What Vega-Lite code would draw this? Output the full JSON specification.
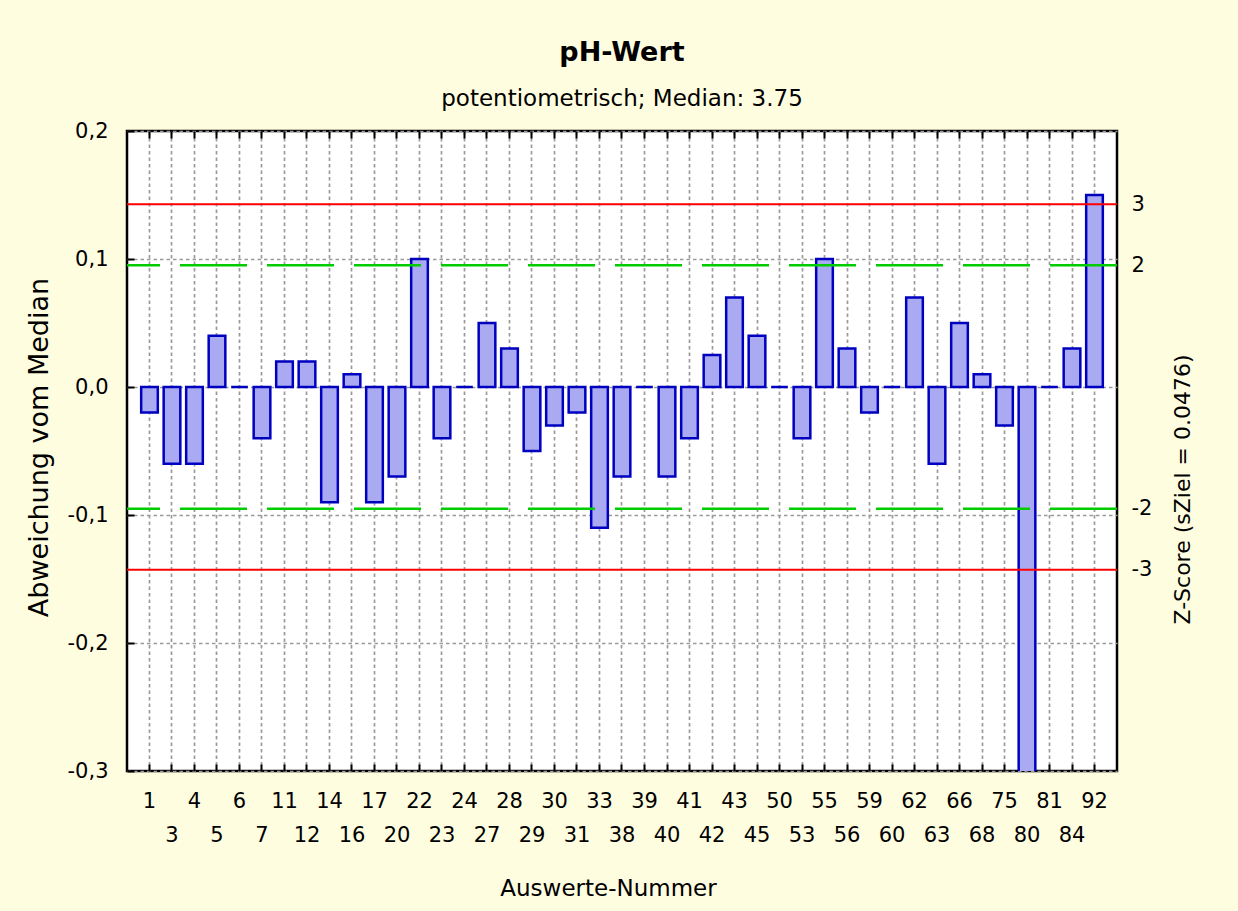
{
  "$schema": "https://vega.github.io/schema/vega-lite/v6.json",
  "width": 990,
  "height": 640,
  "autosize": {"type": "none"},
  "padding": {"left": 127, "top": 131, "right": 121, "bottom": 140},
  "background": "#FFFDDF",
  "config": {
    "font": "DejaVu Sans",
    "view": {"stroke": "#000000", "strokeWidth": 2.5, "fill": "#FFFFFF"},
    "axis": {
      "labelFont": "DejaVu Sans",
      "titleFont": "DejaVu Sans",
      "labelColor": "#000000",
      "titleColor": "#000000",
      "titleFontWeight": "normal"
    }
  },
  "title": {
    "text": "pH-Wert",
    "subtitle": "potentiometrisch; Median: 3.75",
    "font": "DejaVu Sans",
    "fontSize": 27,
    "fontWeight": "bold",
    "color": "#000000",
    "subtitleFont": "DejaVu Sans",
    "subtitleFontSize": 23,
    "subtitleColor": "#000000",
    "subtitlePadding": 21,
    "anchor": "middle",
    "offset": 8
  },
  "datasets": {
    "bars": [
      {"nr": "1", "abw": -0.02}, {"nr": "3", "abw": -0.06}, {"nr": "4", "abw": -0.06},
      {"nr": "5", "abw": 0.04}, {"nr": "6", "abw": 0}, {"nr": "7", "abw": -0.04},
      {"nr": "11", "abw": 0.02}, {"nr": "12", "abw": 0.02}, {"nr": "14", "abw": -0.09},
      {"nr": "16", "abw": 0.01}, {"nr": "17", "abw": -0.09}, {"nr": "20", "abw": -0.07},
      {"nr": "22", "abw": 0.10}, {"nr": "23", "abw": -0.04}, {"nr": "24", "abw": 0},
      {"nr": "27", "abw": 0.05}, {"nr": "28", "abw": 0.03}, {"nr": "29", "abw": -0.05},
      {"nr": "30", "abw": -0.03}, {"nr": "31", "abw": -0.02}, {"nr": "33", "abw": -0.11},
      {"nr": "38", "abw": -0.07}, {"nr": "39", "abw": 0}, {"nr": "40", "abw": -0.07},
      {"nr": "41", "abw": -0.04}, {"nr": "42", "abw": 0.025}, {"nr": "43", "abw": 0.07},
      {"nr": "45", "abw": 0.04}, {"nr": "50", "abw": 0}, {"nr": "53", "abw": -0.04},
      {"nr": "55", "abw": 0.10}, {"nr": "56", "abw": 0.03}, {"nr": "59", "abw": -0.02},
      {"nr": "60", "abw": 0}, {"nr": "62", "abw": 0.07}, {"nr": "63", "abw": -0.06},
      {"nr": "66", "abw": 0.05}, {"nr": "68", "abw": 0.01}, {"nr": "75", "abw": -0.03},
      {"nr": "80", "abw": -0.35}, {"nr": "81", "abw": 0}, {"nr": "84", "abw": 0.03},
      {"nr": "92", "abw": 0.15}
    ],
    "rot": [{"z": 3}, {"z": -3}],
    "gruen": [{"z": 2}, {"z": -2}]
  },
  "layer": [
    {
      "data": {"name": "bars"},
      "mark": {"type": "bar", "fill": "#AAAAF2", "stroke": "#0000C0", "strokeWidth": 2.5, "clip": true},
      "encoding": {
        "x": {
          "field": "nr",
          "type": "nominal",
          "sort": null,
          "scale": {"paddingInner": 0.26, "paddingOuter": 0.63},
          "axis": {
            "orient": "bottom",
            "title": "Auswerte-Nummer",
            "titleFontSize": 23,
            "titleX": 481,
            "titleY": 124.5,
            "titleBaseline": "alphabetic",
            "titleAlign": "center",
            "labelAngle": 0,
            "labelFontSize": 21,
            "labelBaseline": "top",
            "labelLineHeight": 34,
            "labelPadding": 26,
            "labelOverlap": false,
            "labelBound": false,
            "labelFlush": false,
            "labelExpr": "indexof(['1','3','4','5','6','7','11','12','14','16','17','20','22','23','24','27','28','29','30','31','33','38','39','40','41','42','43','45','50','53','55','56','59','60','62','63','66','68','75','80','81','84','92'], datum.label) % 2 == 1 ? ['', datum.label] : datum.label",
            "bandPosition": 0.5,
            "domain": false,
            "ticks": true,
            "tickSize": -7,
            "tickWidth": 2,
            "tickColor": "#000000",
            "grid": true,
            "gridColor": "#9A9A9A",
            "gridDash": [3.5, 3],
            "gridWidth": 1.7
          }
        },
        "y": {
          "field": "abw",
          "type": "quantitative",
          "scale": {"domain": [-0.3, 0.2], "nice": false, "zero": false},
          "axis": {
            "orient": "left",
            "title": "Abweichung vom Median",
            "titleFontSize": 27,
            "titleAngle": 270,
            "titleX": -80,
            "titleY": 316,
            "titleAlign": "center",
            "titleBaseline": "alphabetic",
            "values": [-0.3, -0.2, -0.1, 0, 0.1, 0.2],
            "labelFontSize": 21,
            "labelPadding": 26,
            "labelExpr": "(datum.value < -0.0001 ? '-' : '') + replace(format(abs(datum.value), '.1f'), '.', ',')",
            "domain": false,
            "ticks": true,
            "tickSize": -7,
            "tickWidth": 2,
            "tickColor": "#000000",
            "grid": true,
            "gridColor": "#9A9A9A",
            "gridDash": [3.5, 3],
            "gridWidth": 1.7
          }
        }
      }
    },
    {
      "encoding": {
        "y": {
          "field": "z",
          "type": "quantitative",
          "scale": {"domain": [-6.302521, 4.201681], "nice": false, "zero": false},
          "axis": {
            "orient": "right",
            "title": "Z-Score (sZiel = 0.0476)",
            "titleFontSize": 22,
            "titleAngle": 270,
            "titleX": 72,
            "titleY": 358,
            "titleAlign": "center",
            "titleBaseline": "alphabetic",
            "values": [3, 2, -2, -3],
            "labelFontSize": 21,
            "labelPadding": 14,
            "labelAlign": "left",
            "labelExpr": "datum.value < 0 ? '-' + abs(datum.value) : '' + datum.value",
            "domain": false,
            "ticks": false,
            "grid": false
          }
        }
      },
      "layer": [
        {
          "data": {"name": "gruen"},
          "mark": {"type": "rule", "color": "#00CC00", "strokeWidth": 2.5, "strokeDash": [67, 20]}
        },
        {
          "data": {"name": "rot"},
          "mark": {"type": "rule", "color": "#FF0000", "strokeWidth": 2}
        }
      ]
    },
    {
      "data": {"name": "bars"},
      "mark": {"type": "point", "opacity": 0},
      "encoding": {
        "x": {
          "field": "nr",
          "type": "nominal",
          "sort": null,
          "axis": {
            "orient": "top",
            "title": null,
            "labels": false,
            "domain": false,
            "grid": false,
            "bandPosition": 0.5,
            "ticks": true,
            "tickSize": -7,
            "tickWidth": 2,
            "tickColor": "#000000"
          }
        }
      }
    }
  ],
  "resolve": {"scale": {"y": "independent"}, "axis": {"x": "independent"}}
}
